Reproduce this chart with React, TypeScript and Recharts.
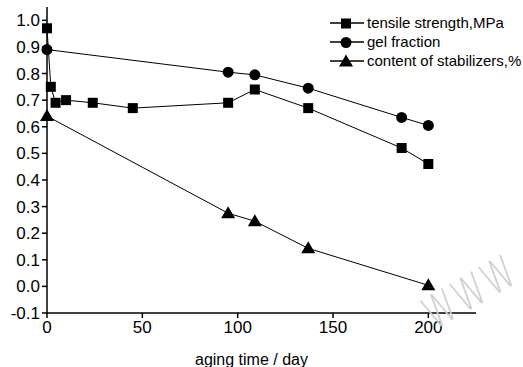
import { LineChart, Line, XAxis, YAxis } from 'recharts'

const tensileX = [0, 2, 4.5, 10, 24, 45, 95, 109, 137, 186, 200]
const tensileY = [0.97, 0.75, 0.69, 0.7, 0.69, 0.67, 0.69, 0.74, 0.67, 0.52, 0.46]

const gelX = [0, 95, 109, 137, 186, 200]
const gelY = [0.89, 0.805, 0.795, 0.745, 0.635, 0.605]

const stabX = [0, 95, 109, 137, 200]
const stabY = [0.64, 0.275, 0.245, 0.143, 0.004]

const xTicks = [0, 50, 100, 150, 200]
const yTicks = [-0.1, 0, 0.1, 0.2, 0.3, 0.4, 0.5, 0.6, 0.7, 0.8, 0.9, 1.0]

const seriesNames = ['tensile strength,MPa', 'gel fraction', 'content of stabilizers,%']

const toPoints = (xs: number[], ys: number[]) => xs.map((x, i) => ({ x, y: ys[i] }))

const FONT = '"Liberation Sans", Arial, sans-serif'

function Square({ cx, cy }: any) {
  if (cx == null || cy == null) return null
  return <rect x={cx - 5} y={cy - 5} width={10} height={10} fill="#000" />
}
function Circle({ cx, cy }: any) {
  if (cx == null || cy == null) return null
  return <circle cx={cx} cy={cy} r={5.5} fill="#000" />
}
function Triangle({ cx, cy }: any) {
  if (cx == null || cy == null) return null
  return <polygon points={`${cx},${cy - 7} ${cx - 7},${cy + 5} ${cx + 7},${cy + 5}`} fill="#000" />
}

const markers = [Square, Circle, Triangle]

function LegendBox() {
  return (
    <div style={{ position: 'absolute', left: 330, top: 13, fontFamily: FONT, fontSize: 15, color: '#000', lineHeight: '19px', whiteSpace: 'nowrap' }}>
      {seriesNames.map((name, i) => {
        const M = markers[i]
        return (
          <div key={name} style={{ display: 'flex', alignItems: 'center', height: 19 }}>
            <svg width={34} height={16} style={{ marginRight: 3, flexShrink: 0 }}>
              <line x1={0} y1={8} x2={34} y2={8} stroke="#000" strokeWidth={1.5} />
              <M cx={16} cy={8.5} />
            </svg>
            <span>{name}</span>
          </div>
        )
      })}
    </div>
  )
}

export default function App() {
  return (
    <div style={{ position: 'absolute', left: 0, top: 0, width: 523, height: 367, background: '#fff', overflow: 'hidden' }}>
      <LineChart width={523} height={367} margin={{ top: 7, right: 47, bottom: 0, left: 0 }}>
        <XAxis
          type="number"
          dataKey="x"
          domain={[0, 225]}
          ticks={xTicks}
          allowDuplicatedCategory={false}
          height={54}
          tick={{ fontSize: 17, fill: '#000', fontFamily: FONT }}
          tickSize={5}
          tickMargin={3}
          axisLine={{ stroke: '#000', strokeWidth: 1.5 }}
          tickLine={{ stroke: '#000', strokeWidth: 1.5 }}
          label={{ value: 'aging time / day', position: 'insideBottom', offset: 2, dx: -10, fontSize: 16, fill: '#000', fontFamily: FONT }}
        />
        <YAxis
          type="number"
          dataKey="y"
          domain={[-0.1, 1.05]}
          ticks={yTicks}
          interval={0}
          width={47}
          tickFormatter={(v: number) => v.toFixed(1)}
          tick={{ fontSize: 17, fill: '#000', fontFamily: FONT }}
          tickSize={5}
          tickMargin={2}
          axisLine={{ stroke: '#000', strokeWidth: 1.5 }}
          tickLine={{ stroke: '#000', strokeWidth: 1.5 }}
        />
        <Line
          data={toPoints(tensileX, tensileY)}
          dataKey="y"
          name={seriesNames[0]}
          stroke="#000"
          strokeWidth={1}
          dot={<Square />}
          isAnimationActive={false}
        />
        <Line
          data={toPoints(gelX, gelY)}
          dataKey="y"
          name={seriesNames[1]}
          stroke="#000"
          strokeWidth={1}
          dot={<Circle />}
          isAnimationActive={false}
        />
        <Line
          data={toPoints(stabX, stabY)}
          dataKey="y"
          name={seriesNames[2]}
          stroke="#000"
          strokeWidth={1}
          dot={<Triangle />}
          isAnimationActive={false}
        />
      </LineChart>
      <LegendBox />
      <div
        style={{
          position: 'absolute',
          left: 470,
          top: 292,
          transform: 'translate(-50%, -50%) rotate(-30deg) scaleY(1.4)',
          fontFamily: '"DejaVu Sans", sans-serif',
          fontWeight: 200,
          fontSize: 32,
          lineHeight: '32px',
          letterSpacing: 2,
          color: '#cfcfcf',
          whiteSpace: 'nowrap',
        }}
      >
        WWW
      </div>
    </div>
  )
}
